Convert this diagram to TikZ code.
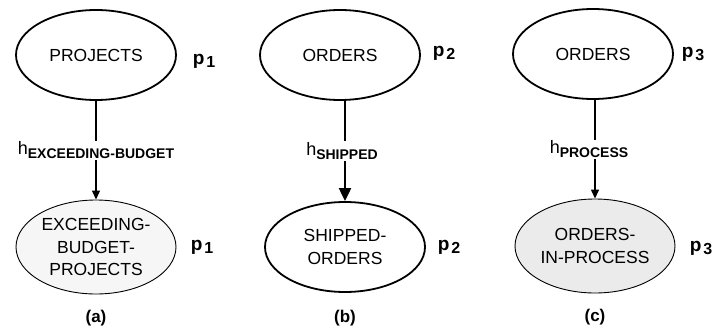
\documentclass[tikz,border=0pt]{standalone}
\usepackage{fontspec}
\setmainfont{Liberation Sans}
\usetikzlibrary{positioning,shapes.geometric,arrows.meta}

\newcommand{\pname}[1]{{\fontsize{19}{19}\selectfont\textbf{p}}\kern2pt\raisebox{-3pt}{\textbf{#1}}}
\newcommand{\hname}[1]{{\fontsize{18}{18}\selectfont h}\raisebox{-4pt}{\fontsize{14}{14}\selectfont\bfseries #1}}

\begin{document}
\begin{tikzpicture}
	[x=1pt,y=1pt,>={Triangle[length=9pt,width=8pt]},node distance = 192pt,on grid,
	 set/.style={ellipse,draw,line width=1.8pt,minimum width=160pt,minimum height=90pt,
	   inner sep=0pt,align=center,font=\fontsize{17.5}{22.5}\selectfont},
	 subset/.style={set,line width=0.9pt,minimum height=94pt},
	 pl/.style={font=\fontsize{16}{16}\selectfont},
	 hl/.style={fill=white,inner sep=1pt,midway},
	 sub caption/.style={font=\fontsize{17}{17}\selectfont\bfseries}]
\useasboundingbox (0,0) rectangle (720,333);

% (a)
\node[set](projects) at (96,278){PROJECTS};
\node[subset,fill=gray!7](budget)[below = of projects]{EXCEEDING-\\BUDGET-\\PROJECTS};
\node[pl](p_a1)[right = 108pt of projects,yshift=-6pt]{\pname{1}};
\node[pl](p_a2)[right = 106pt of budget]{\pname{1}};
\node[sub caption](cap_a)[below = 71pt of budget]{(a)};

% (b)
\node[set](orders_b) at (340,278){ORDERS};
\node[set](shipped)[below = of orders_b,xshift=5pt]{SHIPPED-\\ORDERS};
\node[pl](p_b1)[right = 104pt of orders_b,yshift=2pt]{\pname{2}};
\node[pl](p_b2)[right = 104pt of shipped]{\pname{2}};
\node[sub caption](cap_b)[below = 71pt of shipped]{(b)};

% (c)
\node[set](orders_c) at (593,279){ORDERS};
\node[subset,fill=gray!16](inproc)[below = of orders_c,xshift=2pt]{ORDERS-\\IN-PROCESS};
\node[pl](p_c1)[right = 100pt of orders_c]{\pname{3}};
\node[pl](p_c2)[right = 106pt of inproc,yshift=-2pt]{\pname{3}};
\node[sub caption](cap_c)[below = 71pt of inproc]{(c)};

\path[->]
	(projects.south) edge [line width=1.2pt] node[hl]{\hname{EXCEEDING-BUDGET}} (budget.north)
	(orders_b.south -| shipped.north) edge [line width=2pt,>={Triangle[length=13pt,width=12pt]}]
		node[hl,xshift=-3pt]{\hname{SHIPPED}} (shipped.north)
	(orders_c.south -| inproc.north) edge [line width=1.4pt] node[hl,xshift=-6pt]{\hname{PROCESS}} (inproc.north);

\end{tikzpicture}
\end{document}
